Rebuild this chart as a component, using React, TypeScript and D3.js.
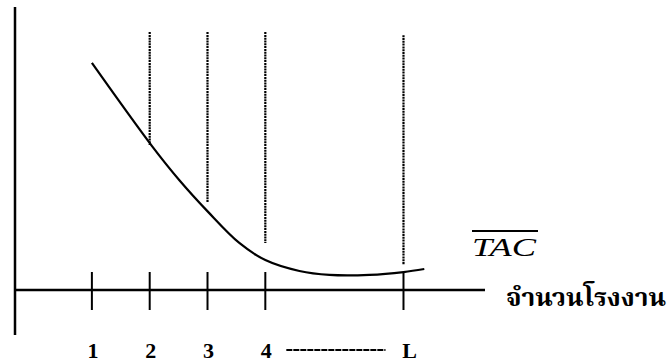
import React from "react";
import * as d3 from "d3";

const W = 668;
const H = 362;

// number of plants (position units) and cost values
const curveQ = [1, 2.04, 2.51, 3.01, 3.55, 4.0, 4.59, 5.11, 5.8, 6.39, 6.75];
const curveCost = [81.1, 51.4, 39.3, 27.9, 16.8, 10.7, 6.8, 5.4, 5.4, 6.4, 7.5];

const tickQ = [1, 2, 3, 4, 6.39];
const tickLabels = ["1", "2", "3", "4", "L"];

const guideQ = [2, 3, 4, 6.39];
const guideTop = [92.1, 92.1, 92.1, 91.0];
const guideBottom = [51.8, 31.1, 16.8, 8.9];

const curveLabel = "TAC";
const axisLabel = "จำนวนโรงงาน";

export default function App() {
  const x = d3.scaleLinear().domain([-0.33, 7.8]).range([15, 485]);
  const y = d3.scaleLinear().domain([0, 100]).range([290, 10]);

  const line = d3
    .line<number>()
    .x((_, i) => x(curveQ[i]))
    .y((d) => y(d))
    .curve(d3.curveCatmullRom.alpha(0.5));

  const serif = "'Liberation Serif', 'Times New Roman', serif";
  const thai = "'Noto Serif Thai', 'Noto Sans Thai', Loma, Garuda, Norasi, sans-serif";

  return (
    <svg
      width={W}
      height={H}
      style={{ position: "fixed", left: 0, top: 0, background: "#fff" }}
    >
      <rect x={0} y={0} width={W} height={H} fill="#fff" />
      {/* y axis */}
      <line x1={x(-0.33)} x2={x(-0.33)} y1={7} y2={335} stroke="#000" strokeWidth={2.5} />
      {/* x axis */}
      <line x1={x(-0.33)} x2={x(7.8)} y1={y(0)} y2={y(0)} stroke="#000" strokeWidth={2.5} />
      {/* ticks */}
      {tickQ.map((q, i) => (
        <line key={"t" + i} x1={x(q)} x2={x(q)} y1={y(0) - 18} y2={y(0) + 20} stroke="#000" strokeWidth={2} />
      ))}
      {/* dotted guides */}
      {guideQ.map((q, i) => (
        <line
          key={"g" + i}
          x1={x(q)}
          x2={x(q)}
          y1={y(guideTop[i])}
          y2={y(guideBottom[i])}
          stroke="#000"
          strokeWidth={2.2}
          strokeDasharray="2 0.8"
        />
      ))}
      {/* TAC curve */}
      <path d={line(curveCost) || ""} fill="none" stroke="#000" strokeWidth={2.2} />
      {/* tick labels */}
      {tickLabels.map((t, i) => (
        <text
          key={"l" + i}
          x={x(tickQ[i]) + (t === "L" ? 6 : 1)}
          y={358}
          textAnchor="middle"
          fontFamily={serif}
          fontWeight="bold"
          fontSize={22}
        >
          {t}
        </text>
      ))}
      {/* dashed connector between 4 and L */}
      <line x1={x(4) + 21} x2={x(6.39) - 18} y1={350} y2={350} stroke="#000" strokeWidth={2.2} strokeDasharray="6 1" />
      {/* TAC label with overline */}
      <line x1={472} x2={538} y1={231} y2={231} stroke="#000" strokeWidth={2} />
      <text x={472} y={256} fontFamily={serif} fontStyle="italic" fontSize={26} textLength={64} lengthAdjust="spacingAndGlyphs">
        {curveLabel}
      </text>
      {/* x axis label */}
      <text
        x={506}
        y={306}
        fontFamily={thai}
        fontWeight="bold"
        fontSize={25}
        textLength={160}
        lengthAdjust="spacingAndGlyphs"
      >
        {axisLabel}
      </text>
    </svg>
  );
}
